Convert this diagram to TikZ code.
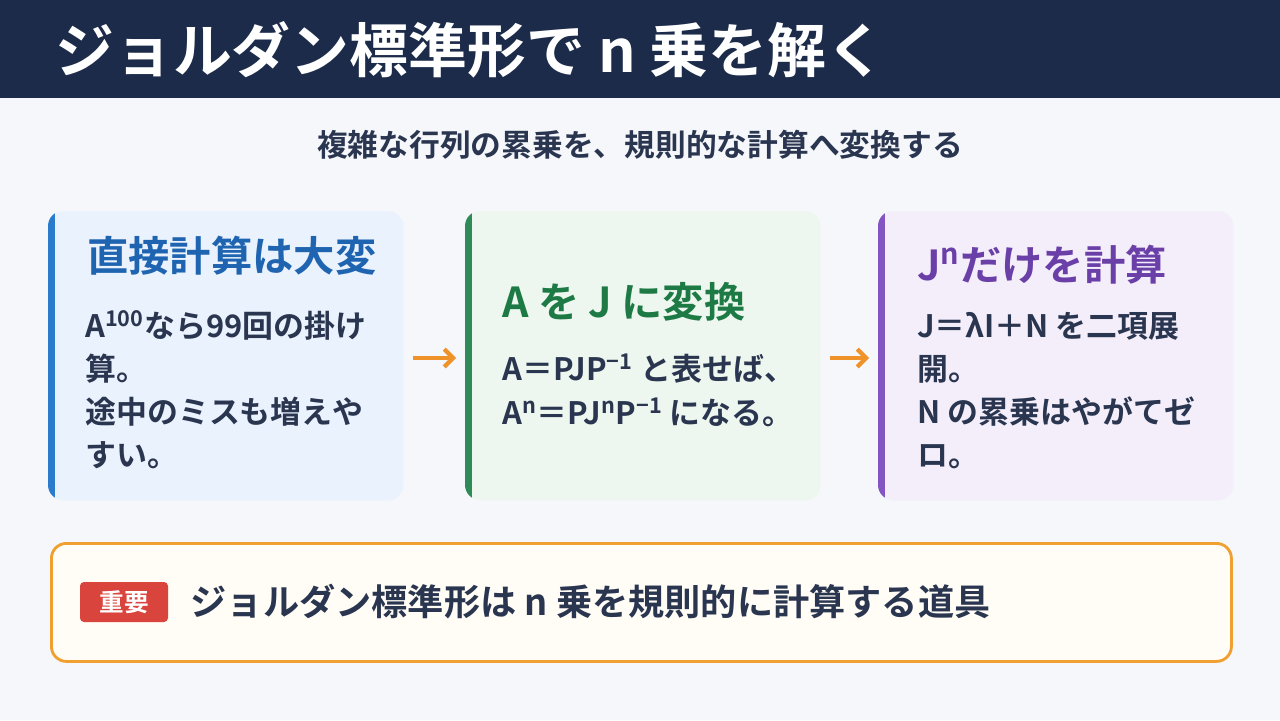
\documentclass[tikz,border=0pt]{standalone}
\usepackage{fontspec}
\setmainfont{Noto Sans CJK JP}[BoldFont={* Bold}]
\usepackage{xcolor}
\usetikzlibrary{arrows.meta, positioning}
\definecolor{navy}{HTML}{1C2B4A}
\definecolor{pagebg}{HTML}{F5F7FB}
\definecolor{inktext}{HTML}{2A3550}
\definecolor{blueline}{HTML}{2A7BCB}
\definecolor{bluefill}{HTML}{EAF2FD}
\definecolor{bluetitle}{HTML}{1F64B0}
\definecolor{greenline}{HTML}{2E8B57}
\definecolor{greenfill}{HTML}{EEF7EF}
\definecolor{greentitle}{HTML}{1E7A45}
\definecolor{purpleline}{HTML}{8455C2}
\definecolor{purplefill}{HTML}{F3EEFA}
\definecolor{purpletitle}{HTML}{6B3FA8}
\definecolor{arroworange}{HTML}{F0922A}
\definecolor{noteline}{HTML}{F0A030}
\definecolor{notefill}{HTML}{FFFDF5}
\definecolor{badgered}{HTML}{D9443C}

\begin{document}
\begin{tikzpicture}[
            x=0.02cm, y=-0.02cm,
            every node/.style={
                    inner sep=0pt,
                    font=\bfseries
                },
            card/.style={
                    rounded corners=0.3cm,
                    minimum width=355*0.02cm,
                    minimum height=289*0.02cm,
                    anchor=north west
                },
            card title/.style={
                    anchor=west,
                    font=\fontsize{23.5}{28}\selectfont\bfseries
                },
            card body/.style={
                    anchor=north west,
                    align=left,
                    text=inktext,
                    font=\fontsize{17.6}{24.5}\selectfont\bfseries
                },
            step arrow/.style={
                    draw=arroworange,
                    line width=2.4pt,
                    -{Straight Barb[length=5pt,width=10pt]}
                }
        ]

        % Page and header
        \useasboundingbox (0,0) rectangle (1280,720);
        \fill[pagebg] (0,0) rectangle (1280,720);
        \fill[navy] (0,0) rectangle (1280,98);
        \node[anchor=west, text=white, font=\fontsize{33.5}{38}\selectfont\bfseries] (title) at (55,50) {ジョルダン標準形で n 乗を解く};
        \node[text=inktext, font=\fontsize{17.5}{20}\selectfont\bfseries] (subtitle) at (640,145) {複雑な行列の累乗を、規則的な計算へ変換する};

        % Cards
        \node[card, fill=bluefill] (card1) at (48,211) {};
        \node[card, fill=greenfill] (card2) at (465,211) {};
        \node[card, fill=purplefill] (card3) at (878,211) {};
        \foreach \x/\c in {48/blueline, 465/greenline, 878/purpleline} {
                \begin{scope}
                    \clip[rounded corners=0.3cm] (\x,211) rectangle ++(355,289);
                    \fill[\c] (\x,211) rectangle ++(7,289);
                \end{scope}
            }

        % Card texts
        \node[card title, text=bluetitle] (head1) at (87,256) {直接計算は大変};
        \node[card body] (body1) at (85,310) {A\textsuperscript{100}なら99回の掛け\\算。\\途中のミスも増えや\\すい。};

        \node[card title, text=greentitle] (head2) at (502,302) {A を J に変換};
        \node[card body] (body2) at (502,354) {A＝PJP\textsuperscript{−1} と表せば、\\A\textsuperscript{n}＝PJ\textsuperscript{n}P\textsuperscript{−1} になる。};

        \node[card title, text=purpletitle] (head3) at (917,265) {J\textsuperscript{n}だけを計算};
        \node[card body] (body3) at (917,312) {J＝λI＋N を二項展\\開。\\N の累乗はやがてゼ\\ロ。};

        % Arrows
        \draw[step arrow] ([xshift=9*0.02cm, yshift=-147*0.02cm]card1.north east) -- ([xshift=-9*0.02cm, yshift=-147*0.02cm]card2.north west);
        \draw[step arrow] ([xshift=9*0.02cm, yshift=-147*0.02cm]card2.north east) -- ([xshift=-9*0.02cm, yshift=-147*0.02cm]card3.north west);

        % Key point
        \node[draw=noteline, line width=1.6pt, fill=notefill, rounded corners=0.3cm, minimum width=1180*0.02cm, minimum height=118*0.02cm, anchor=north west] (note) at (50,542) {};
        \node[fill=badgered, text=white, rounded corners=0.08cm, minimum width=88*0.02cm, minimum height=40*0.02cm, font=\fontsize{14}{16}\selectfont\bfseries] (badge) at (124,602) {重要};
        \node[anchor=west, text=inktext, font=\fontsize{20.6}{24}\selectfont\bfseries, right=22*0.02cm of badge] (keytext) {ジョルダン標準形は n 乗を規則的に計算する道具};

    \end{tikzpicture}
\end{document}
